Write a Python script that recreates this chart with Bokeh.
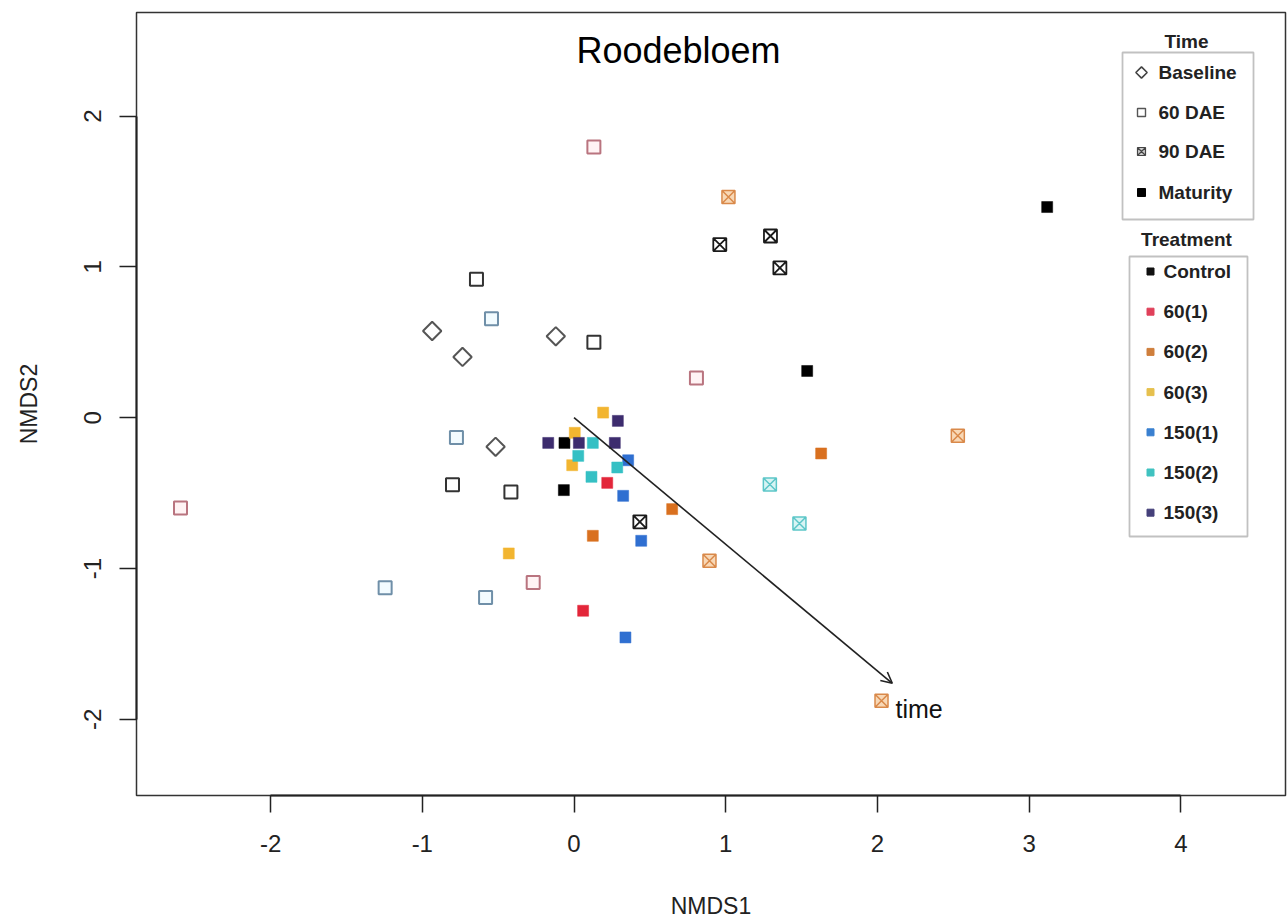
import numpy as np
from bokeh.plotting import figure
from bokeh.models import Range1d, FixedTicker, Arrow, OpenHead, BoxAnnotation
from bokeh.core.properties import value
from bokeh.embed import file_html
from bokeh.resources import INLINE

FONT = "Liberation Sans"

# ---------------- data ----------------
# Baseline (diamonds)
base_x = [-0.935, -0.735, -0.120, -0.517]
base_y = [0.575, 0.403, 0.540, -0.193]

# 60 DAE (open squares)
d60_ctrl_x = [-0.643, 0.131, -0.801, -0.416]
d60_ctrl_y = [0.918, 0.500, -0.445, -0.492]
d60_r1_x = [0.131, 0.807, -2.594, -0.269]
d60_r1_y = [1.795, 0.264, -0.598, -1.092]
d60_b1_x = [-0.544, -0.775, -1.245, -0.583]
d60_b1_y = [0.657, -0.131, -1.128, -1.192]

# 90 DAE (crossed squares)
d90_ctrl_x = [0.961, 1.295, 1.357, 0.434]
d90_ctrl_y = [1.148, 1.205, 0.993, -0.690]
d90_o2_x = [1.018, 2.530, 0.893, 2.027]
d90_o2_y = [1.463, -0.120, -0.949, -1.877]
d90_c2_x = [1.291, 1.486]
d90_c2_y = [-0.443, -0.701]

# Maturity (filled squares)
mat_ctrl_x = [3.119, 1.537, -0.067, -0.063]
mat_ctrl_y = [1.397, 0.310, -0.480, -0.167]
mat_r1_x = [0.219, 0.060]
mat_r1_y = [-0.432, -1.280]
mat_o2_x = [1.629, 0.647, 0.124]
mat_o2_y = [-0.237, -0.606, -0.783]
mat_y3_x = [0.192, 0.005, -0.012, -0.430]
mat_y3_y = [0.034, -0.100, -0.315, -0.900]
mat_b1_x = [0.357, 0.324, 0.443, 0.339]
mat_b1_y = [-0.282, -0.518, -0.816, -1.457]
mat_p3_x = [0.289, -0.170, 0.032, 0.269]
mat_p3_y = [-0.021, -0.167, -0.167, -0.167]
mat_c2_x = [0.124, 0.028, 0.285, 0.115]
mat_c2_y = [-0.167, -0.253, -0.330, -0.392]

# time vector
time_start = (0.0, 0.0)
time_end = (2.098, -1.761)

x_ticks = [-2, -1, 0, 1, 2, 3, 4]
y_ticks = [-2, -1, 0, 1, 2]
x_tick_labels = ["-2", "-1", "0", "1", "2", "3", "4"]
y_tick_labels = ["-2", "-1", "0", "1", "2"]

time_labels = ["Baseline", "60 DAE", "90 DAE", "Maturity"]
treat_labels = ["Control", "60(1)", "60(2)", "60(3)", "150(1)", "150(2)", "150(3)"]
treat_colors = ["#000000", "#e3263a", "#d9701f", "#f2b530", "#2f6fd1", "#35c0c4", "#3d2c6e"]
legend_treat_colors = ["#111111", "#e0405a", "#cf7f3c", "#e6c04e", "#3a80d0", "#40c2c0", "#45407a"]

# ---------------- layout ----------------
W, H = 1288, 924
FL, FR, FT, FB = 136, 1285, 12, 795
X0, X1 = -2.884, 4.690
Y0, Y1 = -2.505, 2.687


def dx(px):
    return X0 + (px - FL) / (FR - FL) * (X1 - X0)


def dy(py):
    return Y1 - (py - FT) / (FB - FT) * (Y1 - Y0)


p = figure(width=W, height=H, output_backend="svg", toolbar_location=None,
           x_range=Range1d(X0, X1), y_range=Range1d(Y0, Y1),
           min_border_left=FL, min_border_right=W - FR,
           min_border_top=FT, min_border_bottom=H - FB)
p.background_fill_color = "white"
p.border_fill_color = "white"
p.outline_line_color = "#333333"
p.outline_line_width = 1.5
p.xgrid.visible = False
p.ygrid.visible = False

for ax, ticks, labels in ((p.xaxis[0], x_ticks, x_tick_labels),
                          (p.yaxis[0], y_ticks, y_tick_labels)):
    ax.ticker = FixedTicker(ticks=ticks)
    ax.major_label_overrides = {t: s for t, s in zip(ticks, labels)}
    ax.bounds = (min(ticks), max(ticks))
    ax.major_tick_out = 17
    ax.major_tick_in = 0
    ax.minor_tick_out = 0
    ax.minor_tick_in = 0
    ax.axis_line_color = "#222222"
    ax.axis_line_width = 2
    ax.major_tick_line_color = "#222222"
    ax.major_tick_line_width = 1.5
    ax.major_label_text_font = FONT
    ax.major_label_text_font_size = "24px"
    ax.major_label_text_color = "#222222"
    ax.axis_label_text_font = FONT
    ax.axis_label_text_font_size = "23px"
    ax.axis_label_text_font_style = "normal"
    ax.axis_label_text_color = "#222222"

p.xaxis.axis_label = "NMDS1"
p.yaxis.axis_label = "NMDS2"
p.xaxis.major_label_standoff = 22
p.xaxis.axis_label_standoff = 38
p.yaxis.major_label_orientation = "vertical"
p.yaxis.major_label_standoff = 18
p.yaxis.axis_label_standoff = 40

# ---------------- points ----------------
# baseline diamonds
p.scatter(base_x, base_y, marker="square", angle=np.pi / 4, size=13,
          fill_color="white", line_color="#555555", line_width=2)

# 60 DAE open squares
p.scatter(d60_ctrl_x, d60_ctrl_y, marker="square", size=13,
          fill_color="white", line_color="#333333", line_width=2)
p.scatter(d60_r1_x, d60_r1_y, marker="square", size=13,
          fill_color="#fff3f4", line_color="#b9747f", line_width=2)
p.scatter(d60_b1_x, d60_b1_y, marker="square", size=13,
          fill_color="#f2fbff", line_color="#6f8fa8", line_width=2)

# 90 DAE crossed squares
p.scatter(d90_ctrl_x, d90_ctrl_y, marker="square_x", size=13,
          fill_color="white", line_color="#1a1a1a", line_width=1.8)
p.scatter(d90_o2_x, d90_o2_y, marker="square_x", size=13,
          fill_color="#f8d8b6", line_color="#d9894a", line_width=1.5)
p.scatter(d90_c2_x, d90_c2_y, marker="square_x", size=13,
          fill_color="#d8f4f4", line_color="#5cc6c8", line_width=1.5)

# Maturity filled squares
for xs, ys, col in ((mat_ctrl_x, mat_ctrl_y, treat_colors[0]),
                    (mat_r1_x, mat_r1_y, treat_colors[1]),
                    (mat_o2_x, mat_o2_y, treat_colors[2]),
                    (mat_y3_x, mat_y3_y, treat_colors[3]),
                    (mat_b1_x, mat_b1_y, treat_colors[4]),
                    (mat_p3_x, mat_p3_y, treat_colors[6]),
                    (mat_c2_x, mat_c2_y, treat_colors[5])):
    p.scatter(xs, ys, marker="square", size=11, fill_color=col, line_color=col, line_width=0.5)

# time arrow
p.add_layout(Arrow(x_start=time_start[0], y_start=time_start[1],
                   x_end=time_end[0], y_end=time_end[1],
                   line_color="#222222", line_width=1.6,
                   end=OpenHead(size=11, line_color="#222222", line_width=1.6)))
p.text(x=[dx(895)], y=[dy(708)], text=["time"], text_font=value(FONT),
       text_font_size="25px", text_color="#111111",
       text_align="left", text_baseline="middle")

# title
p.text(x=[dx(678)], y=[dy(50)], text=["Roodebloem"], text_font=value(FONT),
       text_font_size="36px", text_color="#000000",
       text_align="center", text_baseline="middle")

# ---------------- legends ----------------
# Time legend
p.text(x=[dx(1186)], y=[dy(41)], text=["Time"], text_font=value(FONT),
       text_font_size="19px", text_font_style="bold", text_color="#222222",
       text_align="center", text_baseline="middle")
p.add_layout(BoxAnnotation(left=dx(1122), right=dx(1253), top=dy(52), bottom=dy(219),
                           fill_alpha=0, line_color="#333333", line_width=1.8))
time_ys = [dy(v) for v in (72, 112, 151, 192)]
p.scatter([dx(1141)], [time_ys[0]], marker="square", angle=np.pi / 4, size=8,
          fill_color="white", line_color="#444444", line_width=1.6)
p.scatter([dx(1141)], [time_ys[1]], marker="square", size=8,
          fill_color="white", line_color="#555555", line_width=1.4)
p.scatter([dx(1141)], [time_ys[2]], marker="square_x", size=8,
          fill_color="#cccccc", line_color="#444444", line_width=1.2)
p.scatter([dx(1141)], [time_ys[3]], marker="square", size=8,
          fill_color="#000000", line_color="#000000")
p.text(x=[dx(1158)] * 4, y=time_ys, text=time_labels, text_font=value(FONT),
       text_font_size="19px", text_font_style="bold", text_color="#222222",
       text_align="left", text_baseline="middle")

# Treatment legend
p.text(x=[dx(1186)], y=[dy(239)], text=["Treatment"], text_font=value(FONT),
       text_font_size="19px", text_font_style="bold", text_color="#222222",
       text_align="center", text_baseline="middle")
p.add_layout(BoxAnnotation(left=dx(1129), right=dx(1247), top=dy(256), bottom=dy(536),
                           fill_alpha=0, line_color="#333333", line_width=1.8))
treat_ys = [dy(271 + 40.2 * i) for i in range(len(treat_labels))]
p.scatter([dx(1150)] * len(treat_labels), treat_ys, marker="square", size=7,
          fill_color=legend_treat_colors, line_color=legend_treat_colors)
p.text(x=[dx(1163)] * len(treat_labels), y=treat_ys, text=treat_labels, text_font=value(FONT),
       text_font_size="19px", text_font_style="bold", text_color="#222222",
       text_align="left", text_baseline="middle")

open("out.html", "w").write(file_html(p, INLINE))
